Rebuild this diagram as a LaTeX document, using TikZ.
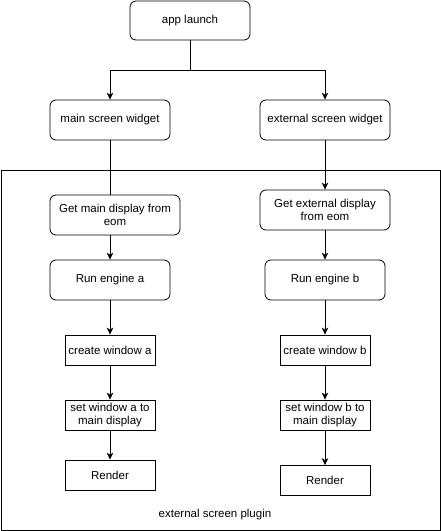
\documentclass[tikz,border=0pt]{standalone}
\usepackage{fontspec}
\setmainfont{Liberation Sans}
\usetikzlibrary{arrows.meta}
\begin{document}
\begin{tikzpicture}[x=1pt,y=-1pt,
  rbox/.style={draw,line width=0.8pt,rounded corners=6pt,align=center,font=\fontsize{11.5}{13.5}\selectfont},
  sbox/.style={draw,line width=0.8pt,align=center,font=\fontsize{11.5}{13.5}\selectfont},
  conn/.style={line width=0.8pt},
  arr/.style={line width=0.8pt,-{Stealth[length=7pt,width=6.5pt,inset=2pt]}}]
\useasboundingbox (0,0) rectangle (441,531);
\draw[line width=0.8pt] (1,170.5) rectangle (440,530);
\node[font=\fontsize{11.5}{13.5}\selectfont] (lbl) at (215,515) {external screen plugin};
% top
\node[rbox,minimum width=120pt,minimum height=39pt] (launch) at (190,20.5) {app launch};
\coordinate (split) at (190,70.5);
\node[rbox,minimum width=120pt,minimum height=40pt] (msw) at (110,120) {main screen widget};
\node[rbox,minimum width=130pt,minimum height=40pt] (esw) at (325,120) {external screen widget};
% left column
\node[rbox,minimum width=130pt,minimum height=40pt] (gmd) at (115,215) {Get main display from\\eom};
\node[rbox,minimum width=120pt,minimum height=40pt] (rea) at (110,280) {Run engine a};
\node[sbox,minimum width=90pt,minimum height=30pt,inner sep=1pt] (cwa) at (110,350) {create window a};
\node[sbox,minimum width=90pt,minimum height=30pt,inner sep=1pt] (swa) at (110,415) {set window a to\\main display};
\node[sbox,minimum width=90pt,minimum height=30pt] (rda) at (110,475) {Render};
% right column
\node[rbox,minimum width=130pt,minimum height=40pt] (ged) at (325,210) {Get external display\\from eom};
\node[rbox,minimum width=120pt,minimum height=40pt] (reb) at (325,280) {Run engine b};
\node[sbox,minimum width=90pt,minimum height=30pt,inner sep=1pt] (cwb) at (325,350) {create window b};
\node[sbox,minimum width=90pt,minimum height=30pt,inner sep=1pt] (swb) at (325,415) {set window b to\\main display};
\node[sbox,minimum width=90pt,minimum height=30pt] (rdb) at (325,480.5) {Render};
% connectors
\draw[arr] (launch.south) -- (split) -| (msw.north);
\draw[arr] (launch.south) -- (split) -| (esw.north);
\draw[conn] (msw.south) -- (msw.south |- gmd.north);
\draw[arr] (esw.south) -- (ged.north);
\draw[arr] (gmd.south -| rea.north) -- (rea.north);
\draw[arr] (rea.south) -- (cwa.north);
\draw[arr] (cwa.south) -- (swa.north);
\draw[arr] (swa.south) -- (rda.north);
\draw[arr] (ged.south) -- (reb.north);
\draw[arr] (reb.south) -- (cwb.north);
\draw[arr] (cwb.south) -- (swb.north);
\draw[arr] (swb.south) -- (rdb.north);
\end{tikzpicture}
\end{document}
